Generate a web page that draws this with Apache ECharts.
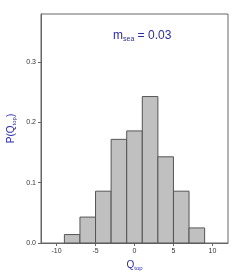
<!DOCTYPE html>
<html><head><meta charset="utf-8">
<script src="https://cdn.jsdelivr.net/npm/echarts@6/dist/echarts.min.js"></script>
<style>html,body{margin:0;padding:0;background:#fff}#c{width:240px;height:273px}</style>
</head><body><div id="c"></div>
<script>
const binEdgesLeft = [-9, -7, -5, -3, -1, 1, 3, 5, 7];
const binWidth = 2;
const probs = [0.014, 0.043, 0.086, 0.172, 0.186, 0.243, 0.143, 0.086, 0.025];
const xTicks = [-10, -5, 0, 5, 10];
const yTicks = [0, 0.1, 0.2, 0.3];

const data = binEdgesLeft.map((x, i) => [x, x + binWidth, probs[i]]);
const blue = '#2b2ba8';
const F = 'Liberation Sans';
const rich = (big, small) => ({
  m: {fontFamily: F, fontSize: big, color: blue, fontWeight: 'normal', verticalAlign: 'bottom', lineHeight: big + 2},
  s: {fontFamily: F, fontSize: small, color: blue, fontWeight: 'normal', verticalAlign: 'bottom', lineHeight: big + 2, padding: [0, 0, -1, 0]}
});
const chart = echarts.init(document.getElementById('c'));
chart.setOption({
  animation: false,
  grid: {left: 41, right: 12, top: 14, bottom: 30, show: true, borderColor: '#666', borderWidth: 1, outerBoundsMode: 'none', containLabel: false},
  title: {
    text: '{m|m}{s|sea}{m| = 0.03}',
    left: 108, top: 23,
    textStyle: {fontWeight: 'normal', rich: rich(12, 7)}
  },
  xAxis: {
    type: 'value', min: -12, max: 12,
    name: '{m|Q}{s|top}', nameLocation: 'middle', nameGap: 13,
    nameTextStyle: {rich: rich(10, 6)},
    axisLine: {show: true, onZero: false, lineStyle: {color: '#666'}},
    axisTick: {show: true, length: 3, customValues: xTicks, lineStyle: {color: '#666'}},
    axisLabel: {customValues: xTicks, fontFamily: F, fontSize: 7, color: '#333', margin: 5},
    splitLine: {show: false}
  },
  yAxis: {
    type: 'value', min: 0, max: 0.38,
    name: '{m|P(Q}{s|top}{m|)}', nameLocation: 'middle', nameGap: 25, nameMoveOverlap: false,
    nameTextStyle: {rich: rich(10, 6)},
    axisLine: {show: true, onZero: false, lineStyle: {color: '#666'}},
    axisTick: {show: true, length: 3, customValues: yTicks, lineStyle: {color: '#666'}},
    axisLabel: {customValues: yTicks, formatter: v => v.toFixed(1), fontFamily: F, fontSize: 7, color: '#333', margin: 5},
    splitLine: {show: false}
  },
  series: [{
    type: 'custom',
    data: data,
    encode: {x: [0, 1], y: 2},
    renderItem: function (params, api) {
      const p0 = api.coord([api.value(0), 0]);
      const p1 = api.coord([api.value(1), api.value(2)]);
      return {
        type: 'rect',
        shape: {x: p0[0], y: p1[1], width: p1[0] - p0[0], height: p0[1] - p1[1]},
        style: {fill: '#c0c0c0', stroke: '#555', lineWidth: 1}
      };
    }
  }]
});
</script></body></html>
